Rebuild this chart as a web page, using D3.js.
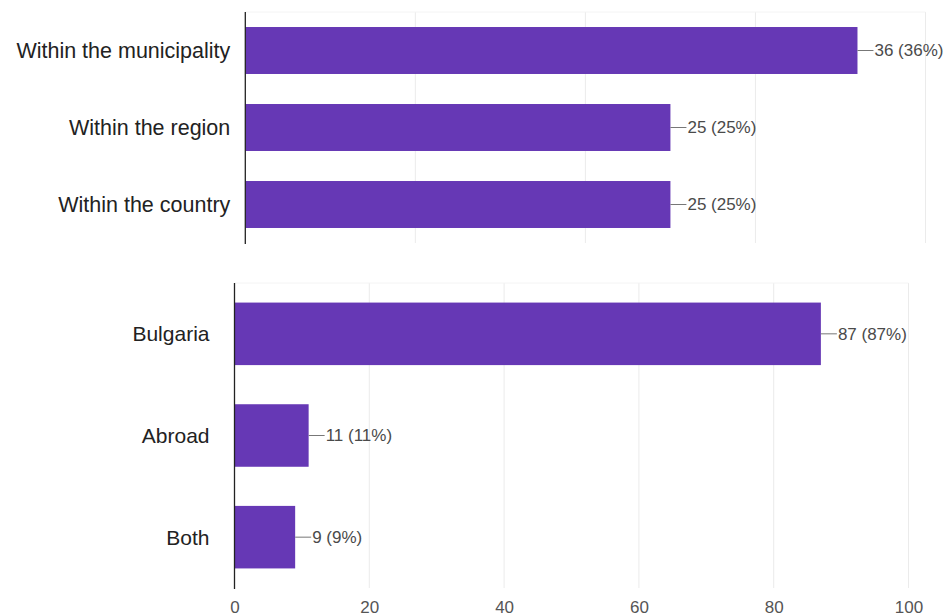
<!DOCTYPE html>
<html>
<head>
<meta charset="utf-8">
<script src="https://cdn.jsdelivr.net/npm/d3@7"></script>
<style>
  html, body { margin: 0; padding: 0; background: #fff; }
  svg { display: block; font-family: "Liberation Sans", Arial, sans-serif; }
</style>
</head>
<body>
<svg id="chart" width="951" height="615"></svg>
<script>
// Where the activity takes place (top) and country of activity (bottom)
const scopeCategories = ["Within the municipality", "Within the region", "Within the country"];
const scopeCounts = [36, 25, 25];
const scopePercents = [36, 25, 25];
const scopeTicks = [0, 10, 20, 30, 40];

const countryCategories = ["Bulgaria", "Abroad", "Both"];
const countryCounts = [87, 11, 9];
const countryPercents = [87, 11, 9];
const countryTicks = [0, 20, 40, 60, 80, 100];

const svg = d3.select("#chart");
const barColor = "#6638b5";

function drawPanel(cfg) {
  const x = d3.scaleLinear().domain(cfg.domain).range([cfg.left, cfg.right]);
  const y = d3.scaleBand().domain(cfg.categories).range([cfg.top, cfg.bottom]).paddingInner(cfg.pad).paddingOuter(cfg.pad / 2);
  const g = svg.append("g");

  // vertical gridlines
  g.selectAll("line.grid").data(cfg.ticks.filter(t => t !== 0)).join("line")
    .attr("class", "grid")
    .attr("x1", d => x(d)).attr("x2", d => x(d))
    .attr("y1", cfg.top).attr("y2", cfg.bottom)
    .attr("stroke", "#ebebeb").attr("stroke-width", 1);

  // faint top border of the plot area
  g.append("line")
    .attr("x1", cfg.left).attr("x2", x(cfg.domain[1]))
    .attr("y1", cfg.top).attr("y2", cfg.top)
    .attr("stroke", "#f4f4f4");

  const data = cfg.categories.map((c, i) => ({ c, v: cfg.counts[i], p: cfg.percents[i] }));

  g.selectAll("rect.bar").data(data).join("rect")
    .attr("class", "bar")
    .attr("x", x(0))
    .attr("y", d => y(d.c))
    .attr("width", d => x(d.v) - x(0))
    .attr("height", y.bandwidth())
    .attr("fill", barColor);

  // leader lines and value labels
  g.selectAll("line.lead").data(data).join("line")
    .attr("class", "lead")
    .attr("x1", d => x(d.v)).attr("x2", d => x(d.v) + 16)
    .attr("y1", d => y(d.c) + y.bandwidth() / 2)
    .attr("y2", d => y(d.c) + y.bandwidth() / 2)
    .attr("stroke", "#777").attr("stroke-width", 1);

  g.selectAll("text.val").data(data).join("text")
    .attr("class", "val")
    .attr("x", d => x(d.v) + 17)
    .attr("y", d => y(d.c) + y.bandwidth() / 2)
    .attr("dy", "0.35em")
    .attr("font-size", 17)
    .attr("fill", "#4a4a4a")
    .text(d => `${d.v} (${d.p}%)`);

  // category labels
  g.selectAll("text.cat").data(data).join("text")
    .attr("class", "cat")
    .attr("x", cfg.left - cfg.labelGap)
    .attr("y", d => y(d.c) + y.bandwidth() / 2)
    .attr("dy", "0.35em")
    .attr("text-anchor", "end")
    .attr("font-size", cfg.labelSize)
    .attr("fill", "#222")
    .text(d => d.c);

  // baseline axis
  g.append("line")
    .attr("x1", x(0)).attr("x2", x(0))
    .attr("y1", cfg.top).attr("y2", cfg.bottom + 1)
    .attr("stroke", "#222").attr("stroke-width", 1.3);

  if (cfg.showTicks) {
    const axis = d3.axisBottom(x).tickValues(cfg.ticks).tickSize(0).tickPadding(0);
    const ag = g.append("g").attr("transform", `translate(0,${cfg.tickY})`).call(axis);
    ag.select(".domain").remove();
    ag.selectAll("text")
      .attr("font-size", 17)
      .attr("font-family", "'Liberation Sans', Arial, sans-serif")
      .attr("fill", "#555")
      .attr("dy", 0);
  }
}

drawPanel({
  categories: scopeCategories, counts: scopeCounts, percents: scopePercents,
  ticks: scopeTicks, domain: [0, 40],
  left: 245.3, right: 925.5, top: 12, bottom: 243, pad: 0.39,
  labelGap: 15, labelSize: 21.5, showTicks: false
});

drawPanel({
  categories: countryCategories, counts: countryCounts, percents: countryPercents,
  ticks: countryTicks, domain: [0, 100],
  left: 234.5, right: 908.5, top: 283, bottom: 588, pad: 0.385,
  labelGap: 25, labelSize: 21, showTicks: true, tickY: 612.5
});
</script>
</body>
</html>
